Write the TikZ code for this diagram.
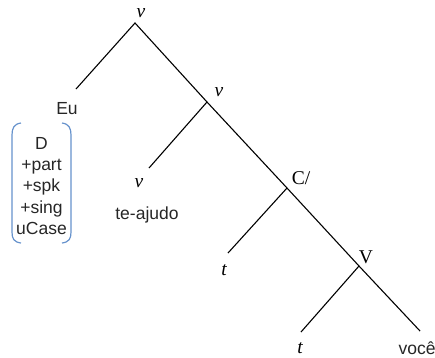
\documentclass[tikz,border=0pt]{standalone}
\usepackage{fontspec}
\setmainfont{Liberation Serif}
\setsansfont{Liberation Sans}
\definecolor{bracketblue}{RGB}{102,146,204}

\begin{document}
\begin{tikzpicture}[x=1pt, y=-1pt,
    branch/.style={line width=1.1pt},
    cat/.style={font=\fontsize{19.5}{20}\selectfont, inner sep=0pt},
    word/.style={font=\sffamily\fontsize{17.5}{21}\selectfont, text=black!85, inner sep=0pt},
    brk/.style={draw=bracketblue, line width=1.2pt}]
  \useasboundingbox (0,0) rectangle (435,357);
  % junctions of the tree
  \coordinate (vtop) at (135,23);
  \coordinate (vmid) at (207,102);
  \coordinate (cbar) at (287,188);
  \coordinate (vbig) at (359,266);
  % ends of the branches
  \coordinate (euend) at (76,89);
  \coordinate (vend)  at (149,168);
  \coordinate (tend)  at (228,253);
  \coordinate (tend2) at (301,332);
  \coordinate (vcend) at (420,331);

  \draw[branch] (euend) -- (vtop) -- (vmid) -- (cbar) -- (vbig) -- (vcend);
  \draw[branch] (vmid) -- (vend);
  \draw[branch] (cbar) -- (tend);
  \draw[branch] (vbig) -- (tend2);

  \node[cat] (lvtop) at (141,13) {\itshape v};
  \node[cat] (lvmid) at (219,92) {\itshape v};
  \node[cat] (lvlow) at (139,183) {\itshape v};
  \node[cat] (lcbar) at (301,178) {C/};
  \node[cat] (lt1)   at (224,270) {\itshape t};
  \node[cat] (lvbig) at (366,257) {V};
  \node[cat] (lt2)   at (300,348) {\itshape t};

  \node[word] (eu)    at (67,109)  {Eu};
  \node[word] (teaj)  at (147,215) {te-ajudo};
  \node[word] (voce)  at (417,348) {você};

  % feature bundle of Eu
  \node[word, align=center, font=\sffamily\fontsize{17.5}{21.3}\selectfont] (feats) at (41.5,186)
    {D\\+part\\+spk\\+sing\\uCase};
  \draw[brk] (21,123) .. controls (14,124) and (12,128) .. (12,135) -- (12,232)
    .. controls (12,239) and (14,242) .. (21,243);
  \draw[brk] (62,123) .. controls (69,124) and (71,128) .. (71,135) -- (71,232)
    .. controls (71,239) and (69,242) .. (62,243);
\end{tikzpicture}
\end{document}
